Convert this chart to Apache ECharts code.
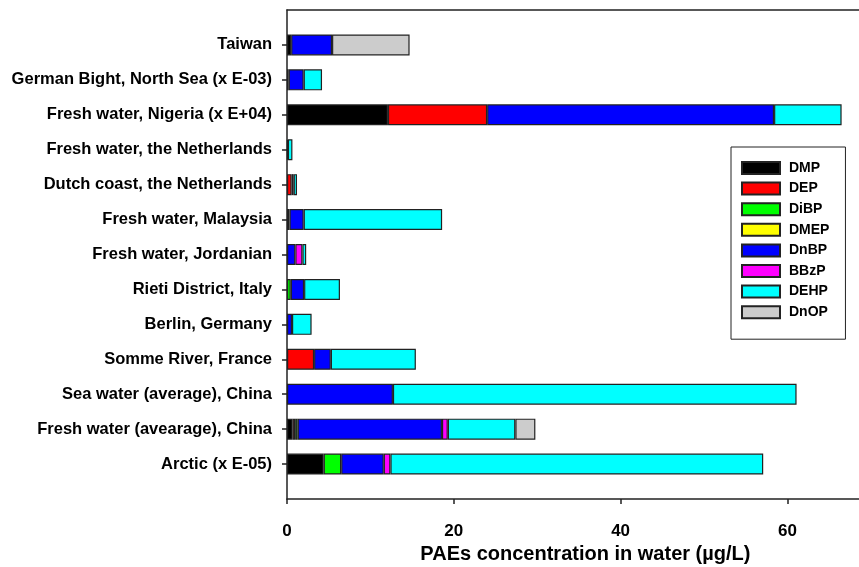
<!DOCTYPE html>
<html>
<head>
<meta charset="utf-8">
<script src="https://cdn.jsdelivr.net/npm/echarts@6/dist/echarts.min.js"></script>
<style>
html,body{margin:0;padding:0;background:#fff;}
#chart{width:859px;height:567px;}
</style>
</head>
<body>
<div id="chart"></div>
<script>
// Categories listed top to bottom as in the picture
const categories = [
  'Taiwan',
  'German Bight, North Sea (x E-03)',
  'Fresh water, Nigeria (x E+04)',
  'Fresh water, the Netherlands',
  'Dutch coast, the Netherlands',
  'Fresh water, Malaysia',
  'Fresh water, Jordanian',
  'Rieti District, Italy',
  'Berlin, Germany',
  'Somme River, France',
  'Sea water (average), China',
  'Fresh water (avearage), China',
  'Arctic (x E-05)'
];
const seriesNames = ['DMP', 'DEP', 'DiBP', 'DMEP', 'DnBP', 'BBzP', 'DEHP', 'DnOP'];
// values per compound, same order as categories (top to bottom)
const DMP  = [0.5, 0.2, 12.1, 0,    0,    0.3, 0,    0,    0,   0,   0,    0.68, 4.4];
const DEP  = [0,   0,   11.9, 0,    0.55, 0,   0,    0,    0,   3.25,0,    0.3,  0];
const DiBP = [0,   0,   0,    0,    0,    0,   0,    0.45, 0,   0,   0,    0.3,  2.1];
const DMEP = [0,   0,   0,    0,    0,    0,   0,    0,    0,   0,   0,    0,    0];
const DnBP = [4.9, 1.8, 34.4, 0.1,  0.25, 1.7, 1.0,  1.6,  0.6, 2.0, 12.7, 17.3, 5.1];
const BBzP = [0,   0,   0,    0,    0,    0,   0.85, 0,    0,   0,   0,    0.7,  0.8];
const DEHP = [0,   2.2, 8.1,  0.55, 0.4,  16.6,0.45, 4.3,  2.35,10.2,48.4, 8.1,  44.7];
const DnOP = [9.3, 0,   0,    0,    0,    0,   0,    0,    0,   0,   0,    2.4,  0];
const colors = ['#000000', '#ff0000', '#00ff00', '#ffff00', '#0000ff', '#ff00ff', '#00ffff', '#cccccc'];
const xTicks = {min: 0, max: 70, interval: 20};

const valueSets = [DMP, DEP, DiBP, DMEP, DnBP, BBzP, DEHP, DnOP];
// axis order bottom to top, with blank padding categories at both ends
const axisCats = [' '].concat(categories.slice().reverse()).concat(['  ']);
const lastIdx = axisCats.length - 1;

const series = seriesNames.map((name, i) => ({
  name: name,
  type: 'bar',
  stack: 'total',
  barWidth: 21,
  xAxisIndex: 0,
  itemStyle: {color: colors[i], borderColor: '#222', borderWidth: 1.2},
  emphasis: {disabled: true},
  data: ['-'].concat(valueSets[i].slice().reverse().map(v => v === 0 ? '-' : v)).concat(['-'])
}));

const font = "'Liberation Sans', Arial, sans-serif";
const chart = echarts.init(document.getElementById('chart'), null, {renderer: 'canvas'});
chart.setOption({
  animation: false,
  backgroundColor: '#ffffff',
  grid: {left: 287, top: 10, width: 583.8, height: 489, containLabel: false, outerBoundsMode: 'none'},
  legend: {
    data: seriesNames,
    orient: 'vertical',
    left: 731,
    top: 147,
    icon: 'rect',
    itemWidth: 38,
    itemHeight: 12,
    itemGap: 6.6,
    padding: [14, 16, 20, 10],
    borderColor: '#222',
    borderWidth: 1,
    textStyle: {fontFamily: font, fontWeight: 'bold', fontSize: 14, color: '#000', padding: [0, 0, 0, 4]},
    selectedMode: false
  },
  xAxis: [{
    type: 'value',
    min: xTicks.min, max: xTicks.max, interval: xTicks.interval,
    position: 'bottom',
    name: 'PAEs concentration in water (µg/L)',
    nameLocation: 'middle',
    nameGap: 44,
    nameTextStyle: {fontFamily: font, fontWeight: 'bold', fontSize: 20, color: '#000', padding: [0, 0, 0, 13]},
    axisLine: {show: true, lineStyle: {color: '#222', width: 1.5}},
    axisTick: {show: true, inside: false, length: 5, lineStyle: {color: '#222', width: 1.5}},
    axisLabel: {fontFamily: font, fontWeight: 'bold', fontSize: 17, color: '#000', margin: 24,
      showMaxLabel: false},
    splitLine: {show: false}
  }, {
    type: 'value',
    min: xTicks.min, max: xTicks.max, interval: xTicks.interval,
    position: 'top',
    axisLine: {show: true, lineStyle: {color: '#222', width: 1.5}},
    axisTick: {show: false},
    axisLabel: {show: false},
    splitLine: {show: false}
  }],
  yAxis: {
    type: 'category',
    data: axisCats,
    boundaryGap: false,
    axisLine: {show: true, lineStyle: {color: '#222', width: 1.5}},
    axisTick: {show: true, inside: false, length: 5, lineStyle: {color: '#222', width: 1.5},
      interval: (idx) => idx !== 0 && idx !== lastIdx},
    axisLabel: {fontFamily: font, fontWeight: 'bold', fontSize: 16.5, color: '#000', margin: 15, interval: 0},
    splitLine: {show: false}
  },
  series: series
});
</script>
</body>
</html>
